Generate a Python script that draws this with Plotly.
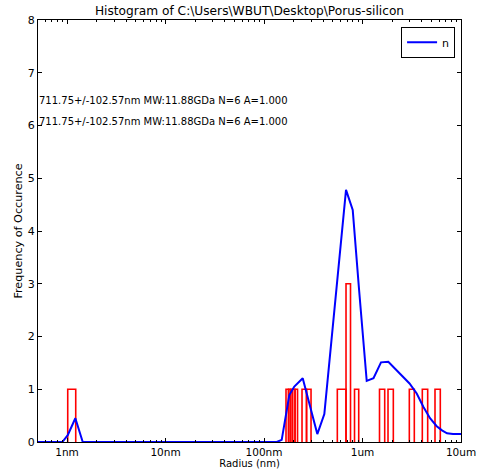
import plotly.graph_objects as go

# Histogram bars (radius in nm)
hist_left_nm = [1.016, 167.2, 177.4, 185.8, 194.7, 206.4, 243.1, 270.1,
                554.9, 680.0, 829.6, 1488, 1815, 2987, 4047, 5445]
hist_right_nm = [1.225, 177.4, 185.8, 194.7, 206.4, 218.9, 270.1, 300.1,
                 680.0, 755.3, 915.2, 1680, 2055, 3357, 4590, 6163]
hist_count = [1, 1, 1, 1, 1, 1, 1, 1, 1, 3, 1, 1, 1, 1, 1, 1]

# Distribution curve "n"
curve_nm = [0.5, 0.896, 1.016, 1.214, 1.443, 134.6, 151.2, 180.7, 203.0, 247.1,
            347.6, 409.5, 680.0, 795.3, 921.4, 1103, 1293, 1541, 1828, 3001,
            3551, 4143, 4845, 5667, 6413, 7209, 8296, 10000]
curve_n = [0, 0, 0.13, 0.45, 0, 0, 0.04, 0.89, 1.05, 1.21,
           0.15, 0.53, 4.78, 4.40, 2.9, 1.16, 1.21, 1.51, 1.52, 1.11,
           0.92, 0.67, 0.45, 0.30, 0.22, 0.165, 0.15, 0.15]

x_tick_vals = [1, 10, 100, 1000, 10000]
x_tick_text = ["1nm", "10nm", "100nm", "1um", "10um"]
stat_text = "711.75+/-102.57nm MW:11.88GDa N=6 A=1.000"
stat_y = [6.48, 6.07]

hx, hy = [], []
for l, r, h in zip(hist_left_nm, hist_right_nm, hist_count):
    hx += [l, l, r, r, None]
    hy += [0, h, h, 0, None]

font = "DejaVu Sans, Liberation Sans, sans-serif"
fig = go.Figure()
fig.add_trace(go.Scatter(x=hx, y=hy, mode="lines", line=dict(color="red", width=1.6),
                         showlegend=False, hoverinfo="skip"))
fig.add_trace(go.Scatter(x=curve_nm, y=curve_n, mode="lines", name="n",
                         line=dict(color="blue", width=2)))

minor_vals = [m * 10 ** k for k in range(-1, 4) for m in range(2, 10)]

fig.update_layout(
    width=477, height=470,
    margin=dict(l=38, r=16, t=20, b=28, autoexpand=False),
    paper_bgcolor="white", plot_bgcolor="white",
    font=dict(family=font, size=10, color="black"),
    title=dict(text="Histogram of C:\\Users\\WBUT\\Desktop\\Porus-silicon",
               x=0.5, xref="paper", xanchor="center", y=1 - 11 / 470, yref="container",
               yanchor="middle", font=dict(size=12.2, color="black")),
    legend=dict(x=0.986, y=0.984, xanchor="right", yanchor="top",
                bgcolor="white", bordercolor="black", borderwidth=1,
                itemwidth=30, tracegroupgap=0,
                font=dict(size=11)),
    xaxis=dict(type="log", range=[-0.295, 4], tickvals=x_tick_vals, ticktext=x_tick_text,
               ticks="inside", ticklen=4, tickcolor="black", showgrid=False, zeroline=False,
               showline=True, linecolor="black", linewidth=1, mirror="ticks",
               automargin=False,
               minor=dict(tickvals=minor_vals, ticks="inside", ticklen=2, tickcolor="black",
                          showgrid=False),
               title=dict(text="Radius (nm)", font=dict(size=10), standoff=0),
               tickfont=dict(size=10.5)),
    yaxis=dict(range=[0, 8], dtick=1, ticks="inside", ticklen=4, tickcolor="black",
               showgrid=False, zeroline=False, showline=True, linecolor="black",
               linewidth=1, mirror="ticks", automargin=False,
               title=dict(text="Frequency of Occurence", font=dict(size=11.2), standoff=2),
               tickfont=dict(size=11)),
)
for yv in stat_y:
    fig.add_annotation(x=0, xref="paper", y=yv, yref="y", text=stat_text,
                       showarrow=False, xanchor="left", yanchor="middle", xshift=-1,
                       font=dict(size=10, color="black"))

fig.write_html("out.html")
